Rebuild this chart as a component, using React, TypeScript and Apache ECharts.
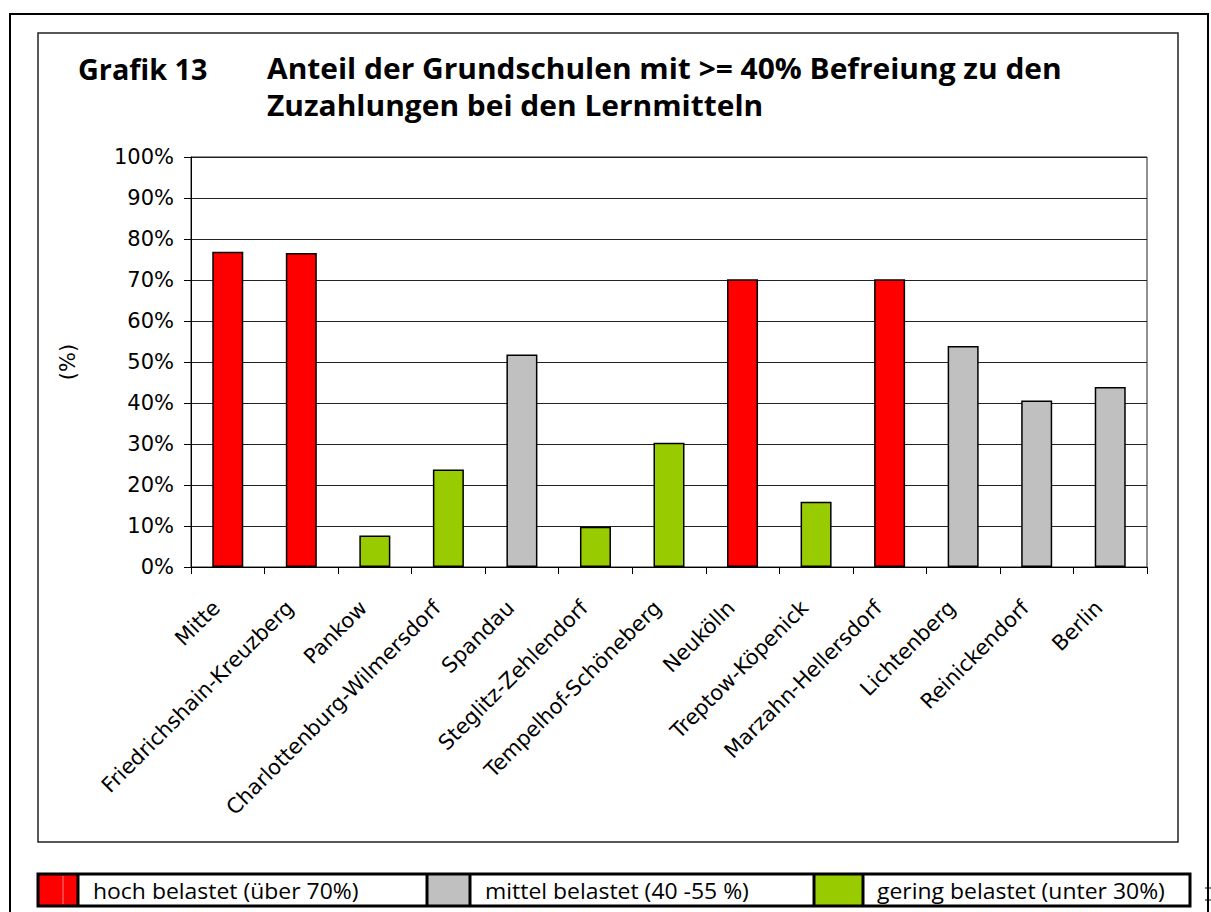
import React, { useEffect, useRef } from "react";
import * as echarts from "echarts";

const categories = [
  "Mitte",
  "Friedrichshain-Kreuzberg",
  "Pankow",
  "Charlottenburg-Wilmersdorf",
  "Spandau",
  "Steglitz-Zehlendorf",
  "Tempelhof-Schöneberg",
  "Neukölln",
  "Treptow-Köpenick",
  "Marzahn-Hellersdorf",
  "Lichtenberg",
  "Reinickendorf",
  "Berlin",
];
const values = [76.9, 76.6, 7.7, 23.8, 51.8, 9.8, 30.3, 70.2, 15.9, 70.2, 53.9, 40.6, 43.9];
const groups = ["hoch", "hoch", "gering", "gering", "mittel", "gering", "gering", "hoch", "gering", "hoch", "mittel", "mittel", "mittel"];
const groupColors: Record<string, string> = { hoch: "#FF0000", mittel: "#C0C0C0", gering: "#99CC00" };
const legendLabels = ["hoch belastet (über 70%)", "mittel belastet (40 -55 %)", "gering belastet (unter 30%)"];
const legendKeys = ["hoch", "mittel", "gering"];
const yTicks = [0, 10, 20, 30, 40, 50, 60, 70, 80, 90, 100];
const titleLabel = "Grafik 13";
const titleText = "Anteil der Grundschulen mit >= 40% Befreiung zu den\nZuzahlungen bei den Lernmitteln";
const yName = "(%)";

const AXIS_FONT = "'DejaVu Sans', sans-serif";
const TITLE_FONT = "'Open Sans', sans-serif";

export default function App() {
  const ref = useRef<HTMLDivElement>(null);
  useEffect(() => {
    if (!ref.current) return;
    const chart = echarts.init(ref.current, undefined, { renderer: "svg" });

    const legTop = 874;
    const legH = 32;
    const cells = [
      { sx: 38, ex: 78, tx: 93 },
      { sx: 427, ex: 470, tx: 485 },
      { sx: 814, ex: 863, tx: 877 },
    ];
    const legendGraphics: any[] = [];
    cells.forEach((c, i) => {
      legendGraphics.push({
        type: "rect",
        shape: { x: c.sx, y: legTop, width: c.ex - c.sx, height: legH },
        style: { fill: groupColors[legendKeys[i]], stroke: null },
        z: 10,
      });
      legendGraphics.push({
        type: "text",
        x: c.tx,
        y: legTop + legH / 2 + 1,
        scaleX: 1.02,
        style: {
          text: legendLabels[i],
          font: `22.5px ${TITLE_FONT}`,
          fill: "#000",
          verticalAlign: "middle",
          align: "left",
        },
        z: 11,
      });
      if (i > 0) {
        legendGraphics.push({
          type: "line",
          shape: { x1: c.sx, y1: legTop, x2: c.sx, y2: legTop + legH },
          style: { stroke: "#000", lineWidth: 3 },
          z: 12,
        });
      }
      legendGraphics.push({
        type: "line",
        shape: { x1: c.ex, y1: legTop, x2: c.ex, y2: legTop + legH },
        style: { stroke: "#000", lineWidth: 3 },
        z: 12,
      });
    });
    legendGraphics.push({
      type: "line",
      shape: { x1: 63, y1: legTop + 2, x2: 63, y2: legTop + legH - 2 },
      style: { stroke: "#ff8080", lineWidth: 1 },
      z: 12,
    });
    legendGraphics.push({
      type: "rect",
      shape: { x: 38, y: legTop, width: 1152, height: legH },
      style: { fill: "none", stroke: "#000", lineWidth: 3 },
      z: 13,
    });

    chart.setOption({
      animation: false,
      backgroundColor: "#fff",
      grid: {
        left: 191,
        top: 157,
        right: 1211 - 1147,
        bottom: 912 - 567,
        show: true,
        borderColor: "#222",
        borderWidth: 1,
        containLabel: false,
      },
      xAxis: {
        type: "category",
        data: categories,
        axisLine: { show: true, lineStyle: { color: "#000", width: 1 } },
        axisTick: { show: true, alignWithLabel: false, length: 7, lineStyle: { color: "#000" } },
        axisLabel: {
          interval: 0,
          rotate: 45,
          margin: 26,
          padding: [0, 16, 0, 0],
          color: "#000",
          fontFamily: AXIS_FONT,
          fontSize: 21,
        },
        splitLine: { show: false },
      },
      yAxis: {
        type: "value",
        min: yTicks[0],
        max: yTicks[yTicks.length - 1],
        interval: 10,
        name: yName,
        nameLocation: "middle",
        nameRotate: 90,
        nameGap: 113,
        nameTextStyle: { color: "#000", fontFamily: AXIS_FONT, fontSize: 21 },
        axisLine: { show: true, lineStyle: { color: "#000", width: 1 } },
        axisTick: { show: true, length: 7, lineStyle: { color: "#000" } },
        axisLabel: {
          formatter: "{value}%",
          color: "#000",
          fontFamily: AXIS_FONT,
          fontSize: 21,
          margin: 17,
        },
        splitLine: { show: true, lineStyle: { color: "#222", width: 1 } },
      },
      series: [
        {
          type: "bar",
          barWidth: 31,
          data: values.map((v, i) => ({
            value: v,
            itemStyle: { color: groupColors[groups[i]], borderColor: "#000", borderWidth: 1.5 },
          })),
        },
      ],
      graphic: [
        {
          type: "rect",
          shape: { x: 10, y: 14, width: 1198, height: 920 },
          style: { fill: "none", stroke: "#000", lineWidth: 2 },
          z: 1,
        },
        {
          type: "rect",
          shape: { x: 38, y: 33, width: 1140, height: 809 },
          style: { fill: "none", stroke: "#222", lineWidth: 1.5 },
          z: 1,
        },
        {
          type: "text",
          x: 78,
          y: 50,
          scaleX: 1.01,
          style: {
            text: titleLabel,
            font: `bold 28.5px ${TITLE_FONT}`,
            fill: "#000",
            lineHeight: 37,
            verticalAlign: "top",
          },
        },
        {
          type: "text",
          x: 267,
          y: 50,
          scaleX: 1.05,
          style: {
            text: titleText,
            font: `bold 28.5px ${TITLE_FONT}`,
            fill: "#000",
            lineHeight: 37,
            verticalAlign: "top",
          },
        },
        {
          type: "line",
          shape: { x1: 1205, y1: 888, x2: 1211, y2: 888 },
          style: { stroke: "#000", lineWidth: 1 },
        },
        {
          type: "line",
          shape: { x1: 1205, y1: 900, x2: 1211, y2: 900 },
          style: { stroke: "#000", lineWidth: 1 },
        },
        ...legendGraphics,
      ],
    });
    return () => chart.dispose();
  }, []);
  return (
    <div
      ref={ref}
      style={{ position: "fixed", left: 0, top: 0, width: 1211, height: 912 }}
    />
  );
}
